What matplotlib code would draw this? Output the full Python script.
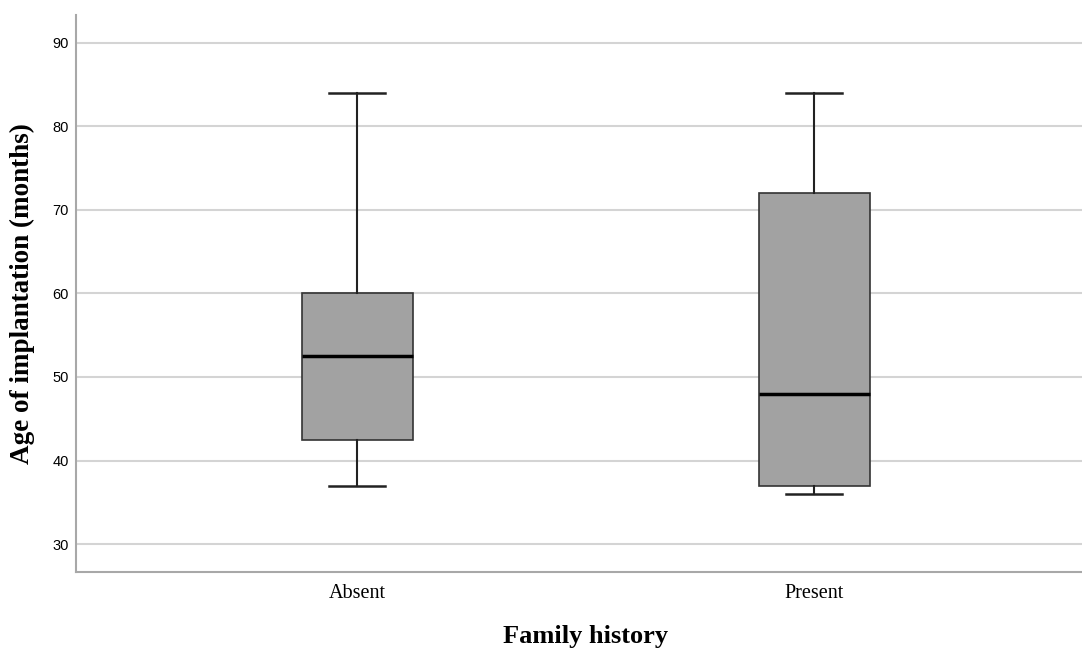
import matplotlib.pyplot as plt

groups = ["Absent", "Present"]
whislo = [37, 36]
q1 = [42.5, 37]
med = [52.5, 48]
q3 = [60, 72]
whishi = [84, 84]

stats = []
for g, lo, a, m, b, hi in zip(groups, whislo, q1, med, q3, whishi):
    stats.append(dict(label=g, whislo=lo, q1=a, med=m, q3=b, whishi=hi, fliers=[]))

fig = plt.figure(figsize=(10.82, 6.5), dpi=100)
ax = fig.add_axes([0.0702, 0.12, 0.9298, 0.857])

ax.bxp(stats, positions=[1, 2], widths=0.243, patch_artist=True,
       showfliers=False,
       boxprops=dict(facecolor="#a2a2a2", edgecolor="#333333", linewidth=1.2),
       medianprops=dict(color="black", linewidth=2.5),
       whiskerprops=dict(color="#222222", linewidth=1.5),
       capprops=dict(color="#222222", linewidth=1.8),
       zorder=3)

ax.set_xlim(0.385, 2.586)
ax.set_ylim(26.65, 93.35)
ax.set_yticks([30, 40, 50, 60, 70, 80, 90])
ax.yaxis.grid(True, color="#d4d4d4", linewidth=1.5, zorder=0)
ax.set_axisbelow(True)

for s in ["top", "right"]:
    ax.spines[s].set_visible(False)
for s in ["left", "bottom"]:
    ax.spines[s].set_color("#a8a8a8")
    ax.spines[s].set_linewidth(1.5)

ax.tick_params(axis="both", length=0)
ax.tick_params(axis="y", pad=5)
ax.tick_params(axis="x", pad=9)
for t in ax.get_yticklabels():
    t.set_fontfamily("Liberation Sans")
    t.set_fontsize(10.5)
ax.set_xticks([1, 2])
ax.set_xticklabels(groups, fontfamily="Liberation Serif", fontsize=14.5)

ax.set_ylabel("Age of implantation (months)", fontfamily="Liberation Serif",
              fontweight="bold", fontsize=19.5)
ax.set_xlabel("Family history", fontfamily="Liberation Serif",
              fontweight="bold", fontsize=19)
ax.yaxis.set_label_coords(-0.041, 0.5)
ax.xaxis.set_label_coords(0.5065, -0.095)

fig.savefig("out.png", dpi=100)
